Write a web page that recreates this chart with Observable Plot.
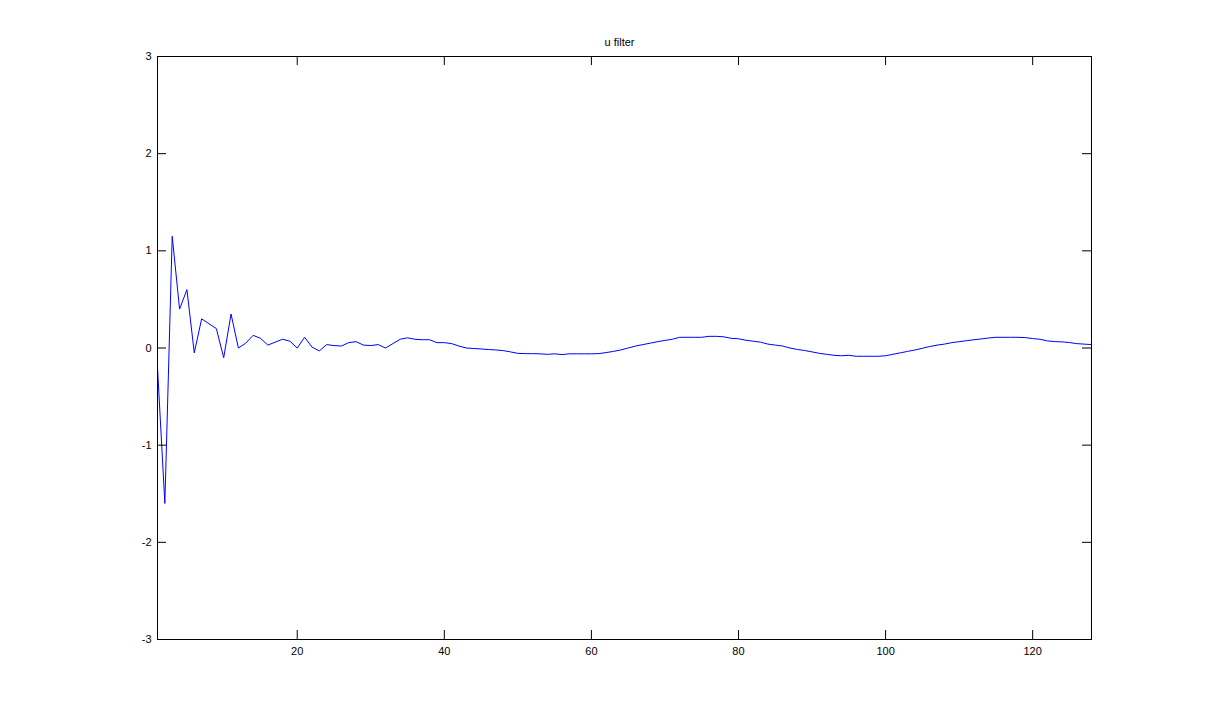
<!DOCTYPE html>
<html>
<head>
<meta charset="utf-8">
<script src="https://cdn.jsdelivr.net/npm/d3@7"></script>
<script src="https://cdn.jsdelivr.net/npm/@observablehq/plot@0.6"></script>
<style>
  html, body { margin: 0; padding: 0; background: #ffffff; }
</style>
</head>
<body>
<div id="chart"></div>
<script>
const titleText = "u filter";
const xTicks = [20, 40, 60, 80, 100, 120];
const yTicks = [-3, -2, -1, 0, 1, 2, 3];
const xDomain = [1, 128];
const yDomain = [-3, 3];
const uValues = [
  -0.2, -1.6, 1.15, 0.4, 0.6, -0.05, 0.3, 0.25, 0.2, -0.1,
  0.35, 0.0, 0.05, 0.13, 0.1, 0.03, 0.06, 0.09, 0.07, 0.0,
  0.11, 0.01, -0.03, 0.035, 0.025, 0.02, 0.055, 0.065, 0.03, 0.025,
  0.035, 0.0, 0.045, 0.09, 0.105, 0.09, 0.085, 0.085, 0.055, 0.055,
  0.045, 0.02, 0.0, -0.005, -0.01, -0.016, -0.02, -0.027, -0.04, -0.055,
  -0.058, -0.058, -0.06, -0.065, -0.06, -0.068, -0.06, -0.06, -0.06, -0.06,
  -0.058, -0.047, -0.035, -0.02, 0.0, 0.02, 0.035, 0.05, 0.065, 0.078,
  0.09, 0.11, 0.11, 0.11, 0.11, 0.12, 0.12, 0.115, 0.1, 0.095,
  0.08, 0.07, 0.06, 0.04, 0.03, 0.02, 0.0, -0.015, -0.026, -0.04,
  -0.055, -0.065, -0.075, -0.08, -0.075, -0.085, -0.085, -0.085, -0.085, -0.08,
  -0.065, -0.05, -0.035, -0.02, -0.003, 0.015, 0.03, 0.04, 0.055, 0.065,
  0.075, 0.085, 0.093, 0.103, 0.11, 0.11, 0.11, 0.11, 0.107, 0.097,
  0.09, 0.073, 0.066, 0.063, 0.056, 0.045, 0.04, 0.035
];

const data = uValues.map((v, i) => ({x: i + 1, y: v}));

const W = 1205, H = 718;
const mL = 157, mR = 114, mT = 56, mB = 79;
const frameW = W - mL - mR;
const frameH = H - mT - mB;
const tickLen = 9;

const chart = Plot.plot({
  width: W,
  height: H,
  marginLeft: mL,
  marginRight: mR,
  marginTop: mT,
  marginBottom: mB,
  style: {fontFamily: "'Liberation Sans', Arial, sans-serif", fontSize: "11px", background: "#ffffff", color: "#000000"},
  x: {domain: xDomain},
  y: {domain: yDomain},
  marks: [
    Plot.line(data, {x: "x", y: "y", stroke: "#0000ff", strokeWidth: 1}),
    Plot.frame({stroke: "#000000"}),
    Plot.tickX(xTicks, {x: d => d, insetTop: frameH - tickLen, stroke: "#000000"}),
    Plot.tickX(xTicks, {x: d => d, insetBottom: frameH - tickLen, stroke: "#000000"}),
    Plot.tickY(yTicks, {y: d => d, insetRight: frameW - tickLen, stroke: "#000000"}),
    Plot.tickY(yTicks, {y: d => d, insetLeft: frameW - tickLen, stroke: "#000000"}),
    Plot.axisX({ticks: xTicks, tickSize: 0, tickPadding: 8, label: null, tickFormat: d => String(d)}),
    Plot.axisY({ticks: yTicks, tickSize: 0, tickPadding: 6, label: null, tickFormat: d => String(d)}),
    Plot.text([titleText], {frameAnchor: "top", dy: -18, dx: -5, text: d => d, fontSize: 11, fill: "#000000"})
  ]
});
document.getElementById("chart").appendChild(chart);
</script>
</body>
</html>
